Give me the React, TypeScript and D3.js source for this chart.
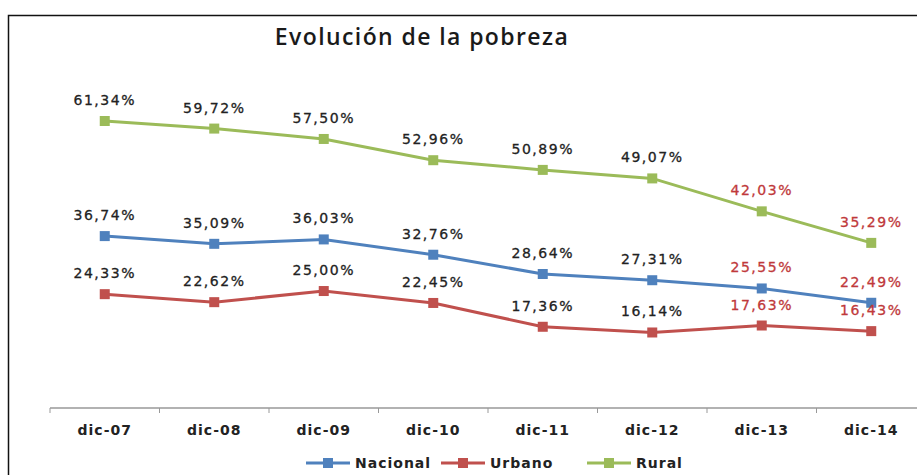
import React, { useRef, useEffect } from "react";
import * as d3 from "d3";

const categories = ["dic-07", "dic-08", "dic-09", "dic-10", "dic-11", "dic-12", "dic-13", "dic-14"];
const nacional = [36.74, 35.09, 36.03, 32.76, 28.64, 27.31, 25.55, 22.49];
const urbano = [24.33, 22.62, 25.0, 22.45, 17.36, 16.14, 17.63, 16.43];
const rural = [61.34, 59.72, 57.5, 52.96, 50.89, 49.07, 42.03, 35.29];
const seriesNames = ["Nacional", "Urbano", "Rural"];
// labels for the last two years are shown in red
const redFrom = 6;

export default function App() {
  const ref = useRef<SVGSVGElement>(null);

  const width = 917;
  const height = 475;

  useEffect(() => {
    const svg = d3.select(ref.current);
    svg.selectAll("*").remove();

    const x = d3.scaleBand().domain(categories).range([50, 926]);
    const y = d3.scaleLinear().domain([0, 61.34]).range([408, 121]);
    const color = d3.scaleOrdinal<string>().domain(seriesNames).range(["#4f81bd", "#c0504d", "#9bbb59"]);
    const cx = (d: string) => (x(d) as number) + x.bandwidth() / 2;

    // frame
    svg.append("rect")
      .attr("x", 8.5).attr("y", 15.5)
      .attr("width", 940).attr("height", 500)
      .attr("fill", "white").attr("stroke", "#111").attr("stroke-width", 1.5);

    svg.append("text")
      .attr("x", 422).attr("y", 45)
      .attr("text-anchor", "middle")
      .style("font-family", "'Open Sans', sans-serif")
      .style("font-size", "23px")
      .style("font-weight", "600")
      .style("letter-spacing", "1.4px")
      .attr("fill", "#1a1a1a")
      .text("Evolución de la pobreza");

    // x axis
    const ax = svg.append("g").attr("transform", "translate(0,408)");
    ax.append("line").attr("x1", 50).attr("x2", 917).attr("stroke", "#999").attr("stroke-width", 1.5);
    ax.selectAll("line.tick")
      .data(categories)
      .join("line")
      .attr("class", "tick")
      .attr("x1", (d) => x(d) as number).attr("x2", (d) => x(d) as number)
      .attr("y1", 0).attr("y2", 5)
      .attr("stroke", "#999");
    ax.selectAll("text")
      .data(categories)
      .join("text")
      .attr("x", cx).attr("y", 27)
      .attr("text-anchor", "middle")
      .style("font-family", "'DejaVu Sans', sans-serif")
      .style("font-size", "14px")
      .style("font-weight", "bold")
      .style("letter-spacing", "1px")
      .attr("fill", "#222")
      .text((d) => d);

    const data = [nacional, urbano, rural];
    const line = d3.line<number>().x((_, i) => cx(categories[i])).y((d) => y(d));

    data.forEach((vals, si) => {
      const c = color(seriesNames[si]);
      const g = svg.append("g");
      g.append("path").datum(vals).attr("d", line).attr("fill", "none").attr("stroke", c).attr("stroke-width", 3);
      g.selectAll("rect")
        .data(vals)
        .join("rect")
        .attr("x", (_, i) => cx(categories[i]) - 5)
        .attr("y", (d) => y(d) - 5)
        .attr("width", 10).attr("height", 10)
        .attr("fill", c);
      g.selectAll("text")
        .data(vals)
        .join("text")
        .attr("x", (_, i) => cx(categories[i]))
        .attr("y", (d) => y(d) - 16)
        .attr("text-anchor", "middle")
        .style("font-family", "'DejaVu Sans', sans-serif")
        .style("font-size", "14px")
        .style("letter-spacing", "1.5px")
        .attr("stroke", (_, i) => (i >= redFrom ? "#c0393b" : "#222"))
        .attr("stroke-width", 0.3)
        .attr("fill", (_, i) => (i >= redFrom ? "#c0393b" : "#222"))
        .text((d) => d.toFixed(2).replace(".", ",") + "%");
    });

    // legend
    const legendX = [306, 441, 587];
    const lg = svg.append("g").attr("transform", "translate(0,463)");
    seriesNames.forEach((name, i) => {
      const c = color(name);
      const g = lg.append("g").attr("transform", `translate(${legendX[i]},0)`);
      g.append("line").attr("x1", 0).attr("x2", 44).attr("stroke", c).attr("stroke-width", 3);
      g.append("rect").attr("x", 17).attr("y", -5).attr("width", 10).attr("height", 10).attr("fill", c);
      g.append("text")
        .attr("x", 49).attr("y", 5)
        .style("font-family", "'DejaVu Sans', sans-serif")
        .style("font-size", "14px")
        .style("font-weight", "bold")
        .style("letter-spacing", "1px")
        .attr("fill", "#222")
        .text(name);
    });
  }, []);

  return (
    <svg
      ref={ref}
      width={width}
      height={height}
      style={{ position: "absolute", left: 0, top: 0, background: "white" }}
    />
  );
}
